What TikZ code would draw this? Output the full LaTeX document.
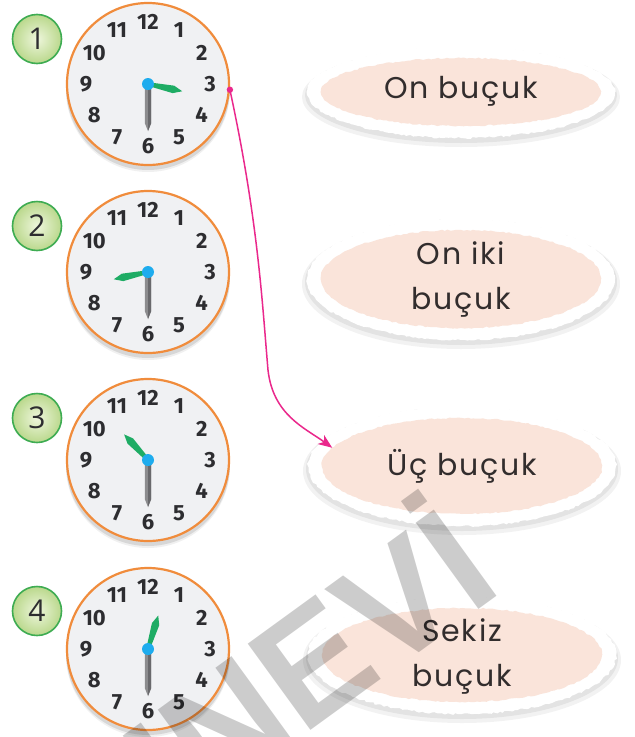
\documentclass[tikz,border=0pt]{standalone}
\usepackage{fontspec}
\setmainfont{Poppins}
\newfontfamily\tagfont[LetterSpace=6]{Poppins}
\newfontfamily\clockfont{Fira Sans}
\newfontfamily\badgefont{Open Sans}
\newfontfamily\wmfont{Liberation Sans}
\usetikzlibrary{shapes.geometric,decorations.pathmorphing,arrows.meta}
\definecolor{clockorange}{RGB}{240,140,60}
\definecolor{clockface}{RGB}{240,241,243}
\definecolor{numdark}{RGB}{45,45,48}
\definecolor{hourgreen}{RGB}{30,172,100}
\definecolor{mingray}{RGB}{140,140,142}
\definecolor{mindark}{RGB}{105,105,108}
\definecolor{hubblue}{RGB}{30,172,238}
\definecolor{badgegreen}{RGB}{62,172,82}
\definecolor{badgein}{RGB}{238,246,220}
\definecolor{badgeout}{RGB}{186,216,140}
\definecolor{tagpink}{RGB}{250,228,218}
\definecolor{textdark}{RGB}{50,45,45}
\definecolor{arrowpink}{RGB}{234,40,140}
\newcommand{\tagbg}[3]{%
  \fill[black,opacity=.05] (#1,#2+5) ellipse ({159} and {#3+16});
  \fill[black,opacity=.06] (#1,#2+3) ellipse ({156} and {#3+14});
  \fill[white,decorate,decoration={random steps,segment length=3pt,amplitude=1pt}] (#1,#2) ellipse ({154} and {#3+12});
  \fill[tagpink,decorate,decoration={random steps,segment length=3pt,amplitude=.7pt}] (#1,#2) ellipse ({140} and {#3});
}
\begin{document}
\begin{tikzpicture}[x=1pt,y=-1pt,
  clockbody/.style={circle,minimum size=162pt,inner sep=0pt,fill=clockface,draw=clockorange,line width=2.2pt},
  clocknum/.style={inner sep=0pt,text=numdark,font=\clockfont\bfseries\fontsize{22}{22}\selectfont},
  badge/.style={circle,minimum size=49pt,inner sep=0pt,draw=badgegreen,line width=1.6pt,inner color=badgein,outer color=badgeout,text=numdark,font=\badgefont\fontsize{30}{30}\selectfont},
  tagtext/.style={ellipse,minimum width=280pt,inner sep=0pt,align=center,text=textdark,font=\tagfont\fontsize{30}{45}\selectfont},
  hourhand/.style={fill=hourgreen},
  wm/.style={inner sep=0pt,text=black,text opacity=.2,font=\wmfont\bfseries\fontsize{155}{155}\selectfont}
]
\useasboundingbox (0,0) rectangle (635,737);
\fill[white] (0,0) rectangle (635,737);

% clocks
\foreach \n/\cy/\ha/\by in {1/84/102/39, 2/272/258/226, 3/460/317/418, 4/649/17/611}{
  \fill[black,opacity=.10] (148,\cy+4) circle (82);
  \fill[black,opacity=.06] (148,\cy+6) circle (82);
  \node[clockbody] (c\n) at (148,\cy) {};
  \foreach \i in {1,...,12}{
    \node[clocknum] (c\n-\i) at ({148+62*sin(30*\i)},{\cy-62*cos(30*\i)}) {\i};
  }
  \begin{scope}[shift={(148,\cy)}]
    \fill[mingray] (-3,0) -- (-3.2,39) -- (0,47) -- (3.2,39) -- (3,0) -- cycle;
    \fill[mindark] (0,0) -- (0,47) -- (3.2,39) -- (3,0) -- cycle;
    \begin{scope}[rotate=-\ha]
      \fill[hourhand] (-1.8,0) -- (-3.8,-26) -- (0,-35) -- (3.8,-26) -- (1.8,0) -- cycle;
    \end{scope}
    \fill[hubblue] (0,0) circle (6);
  \end{scope}
  \node[badge] (b\n) at (37,\by) {\n};
}

% answer tags
\tagbg{461}{92}{34}
\tagbg{461}{279}{49}
\tagbg{462}{466}{48}
\tagbg{462}{655}{47}
\node[tagtext,minimum height=68pt] (e1) at (461,91) {On buçuk};
\node[tagtext,minimum height=98pt] (e2) at (461,279) {On iki\\buçuk};
\node[tagtext,minimum height=96pt] (e3) at (462,466) {Üç buçuk};
\node[tagtext,minimum height=94pt] (e4) at (462,656) {Sekiz\\buçuk};

% matching arrow
\fill[arrowpink] (c1.-4) circle (3.2);
\draw[arrowpink,line width=1.5pt,-{Stealth[length=14pt,width=11pt,inset=4pt]}]
  (c1.-4) .. controls (258,220) and (262,300) .. (268,370)
  .. controls (273,415) and (305,428) .. (e3.172);

% watermark
\begin{scope}
  \clip (0,0) rectangle (635,737);
  \node[wm,rotate=36,anchor=base east] (wm) at (505,590) {YAYINEVİ};
\end{scope}
\end{tikzpicture}
\end{document}
